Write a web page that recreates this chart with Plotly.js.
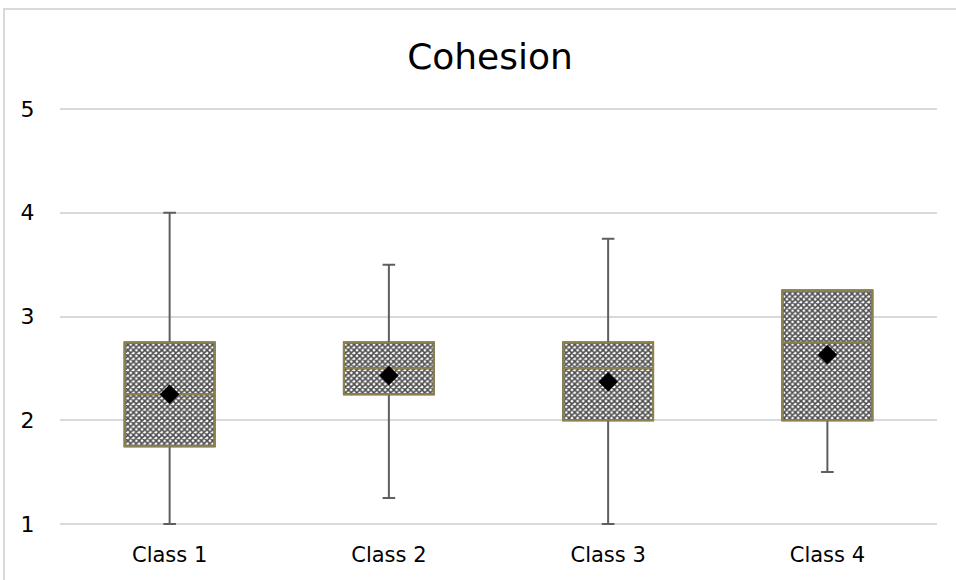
<!DOCTYPE html>
<html>
<head>
<meta charset="utf-8">
<script src="https://cdn.plot.ly/plotly-3.0.1.min.js"></script>
<style>html,body{margin:0;padding:0;background:#fff;}#chart{width:956px;height:580px;}</style>
</head>
<body>
<div id="chart"></div>
<script>
// Data
const categories = ['Class 1', 'Class 2', 'Class 3', 'Class 4'];
const minimums = [1, 1.25, 1, 1.5];
const quartile1 = [1.75, 2.25, 2, 2];
const medians = [2.25, 2.5, 2.5, 2.75];
const quartile3 = [2.75, 2.75, 2.75, 3.25];
const maximums = [4, 3.5, 3.75, 3.25];
const means = [2.25, 2.43, 2.37, 2.63];
const yTicks = [1, 2, 3, 4, 5];

const boxWidth = 0.41;
const olive = '#8c8250';
const whiskerGray = '#5f5f5f';
const fontFam = '"DejaVu Sans", sans-serif';

const traces = [
  // patterned box fill
  {
    type: 'bar',
    x: categories,
    y: quartile3.map((v, i) => v - quartile1[i]),
    base: quartile1,
    width: boxWidth,
    marker: {
      color: '#ffffff',
      line: {color: olive, width: 2},
      pattern: {shape: 'x', size: 4, solidity: 0.62, fgcolor: '#4a4a4a', bgcolor: '#ffffff', fillmode: 'replace'}
    },
    hoverinfo: 'skip',
    showlegend: false
  },
  // whiskers
  {
    type: 'box',
    x: categories,
    q1: quartile1,
    median: medians,
    q3: quartile3,
    lowerfence: minimums,
    upperfence: maximums,
    width: boxWidth,
    whiskerwidth: 0.14,
    fillcolor: 'rgba(0,0,0,0)',
    line: {color: whiskerGray, width: 2},
    showlegend: false
  },
  // box outline and median
  {
    type: 'box',
    x: categories,
    q1: quartile1,
    median: medians,
    q3: quartile3,
    lowerfence: quartile1,
    upperfence: quartile3,
    width: boxWidth,
    whiskerwidth: 0,
    fillcolor: 'rgba(0,0,0,0)',
    line: {color: olive, width: 2},
    showlegend: false
  },
  // mean markers
  {
    type: 'scatter',
    mode: 'markers',
    x: categories,
    y: means,
    marker: {symbol: 'diamond', size: 15, color: '#000000'},
    showlegend: false
  }
];

const layout = {
  width: 956,
  height: 580,
  margin: {l: 60, r: 19, t: 107, b: 54},
  paper_bgcolor: '#ffffff',
  plot_bgcolor: '#ffffff',
  boxmode: 'overlay',
  barmode: 'overlay',
  showlegend: false,
  font: {family: fontFam, color: '#000000'},
  title: {
    text: 'Cohesion',
    font: {family: fontFam, size: 36, color: '#000000'},
    x: 490 / 956, xanchor: 'center', xref: 'container',
    y: 1 - 56 / 580, yanchor: 'middle', yref: 'container'
  },
  xaxis: {
    type: 'category',
    categoryorder: 'array',
    categoryarray: categories,
    range: [-0.5, 3.5],
    showgrid: false,
    showline: false,
    zeroline: false,
    ticks: 'outside',
    ticklen: 10,
    tickcolor: 'rgba(0,0,0,0)',
    tickfont: {family: fontFam, size: 21, color: '#000000'}
  },
  yaxis: {
    range: [0.98, 5.02],
    tickvals: yTicks,
    ticktext: yTicks.map(String),
    showgrid: true,
    gridcolor: '#d9d9d9',
    gridwidth: 2,
    showline: false,
    zeroline: false,
    ticks: 'outside',
    ticklen: 20,
    tickcolor: 'rgba(0,0,0,0)',
    tickfont: {family: fontFam, size: 22, color: '#000000'}
  },
  shapes: [
    {
      type: 'rect', xref: 'paper', yref: 'paper',
      x0: (4 - 60) / 877, x1: 1.2,
      y0: -0.3, y1: (526 - 9) / 419,
      line: {color: '#d9d9d9', width: 2},
      fillcolor: 'rgba(0,0,0,0)',
      layer: 'below'
    }
  ]
};

Plotly.newPlot('chart', traces, layout, {displayModeBar: false, staticPlot: true});
</script>
</body>
</html>
